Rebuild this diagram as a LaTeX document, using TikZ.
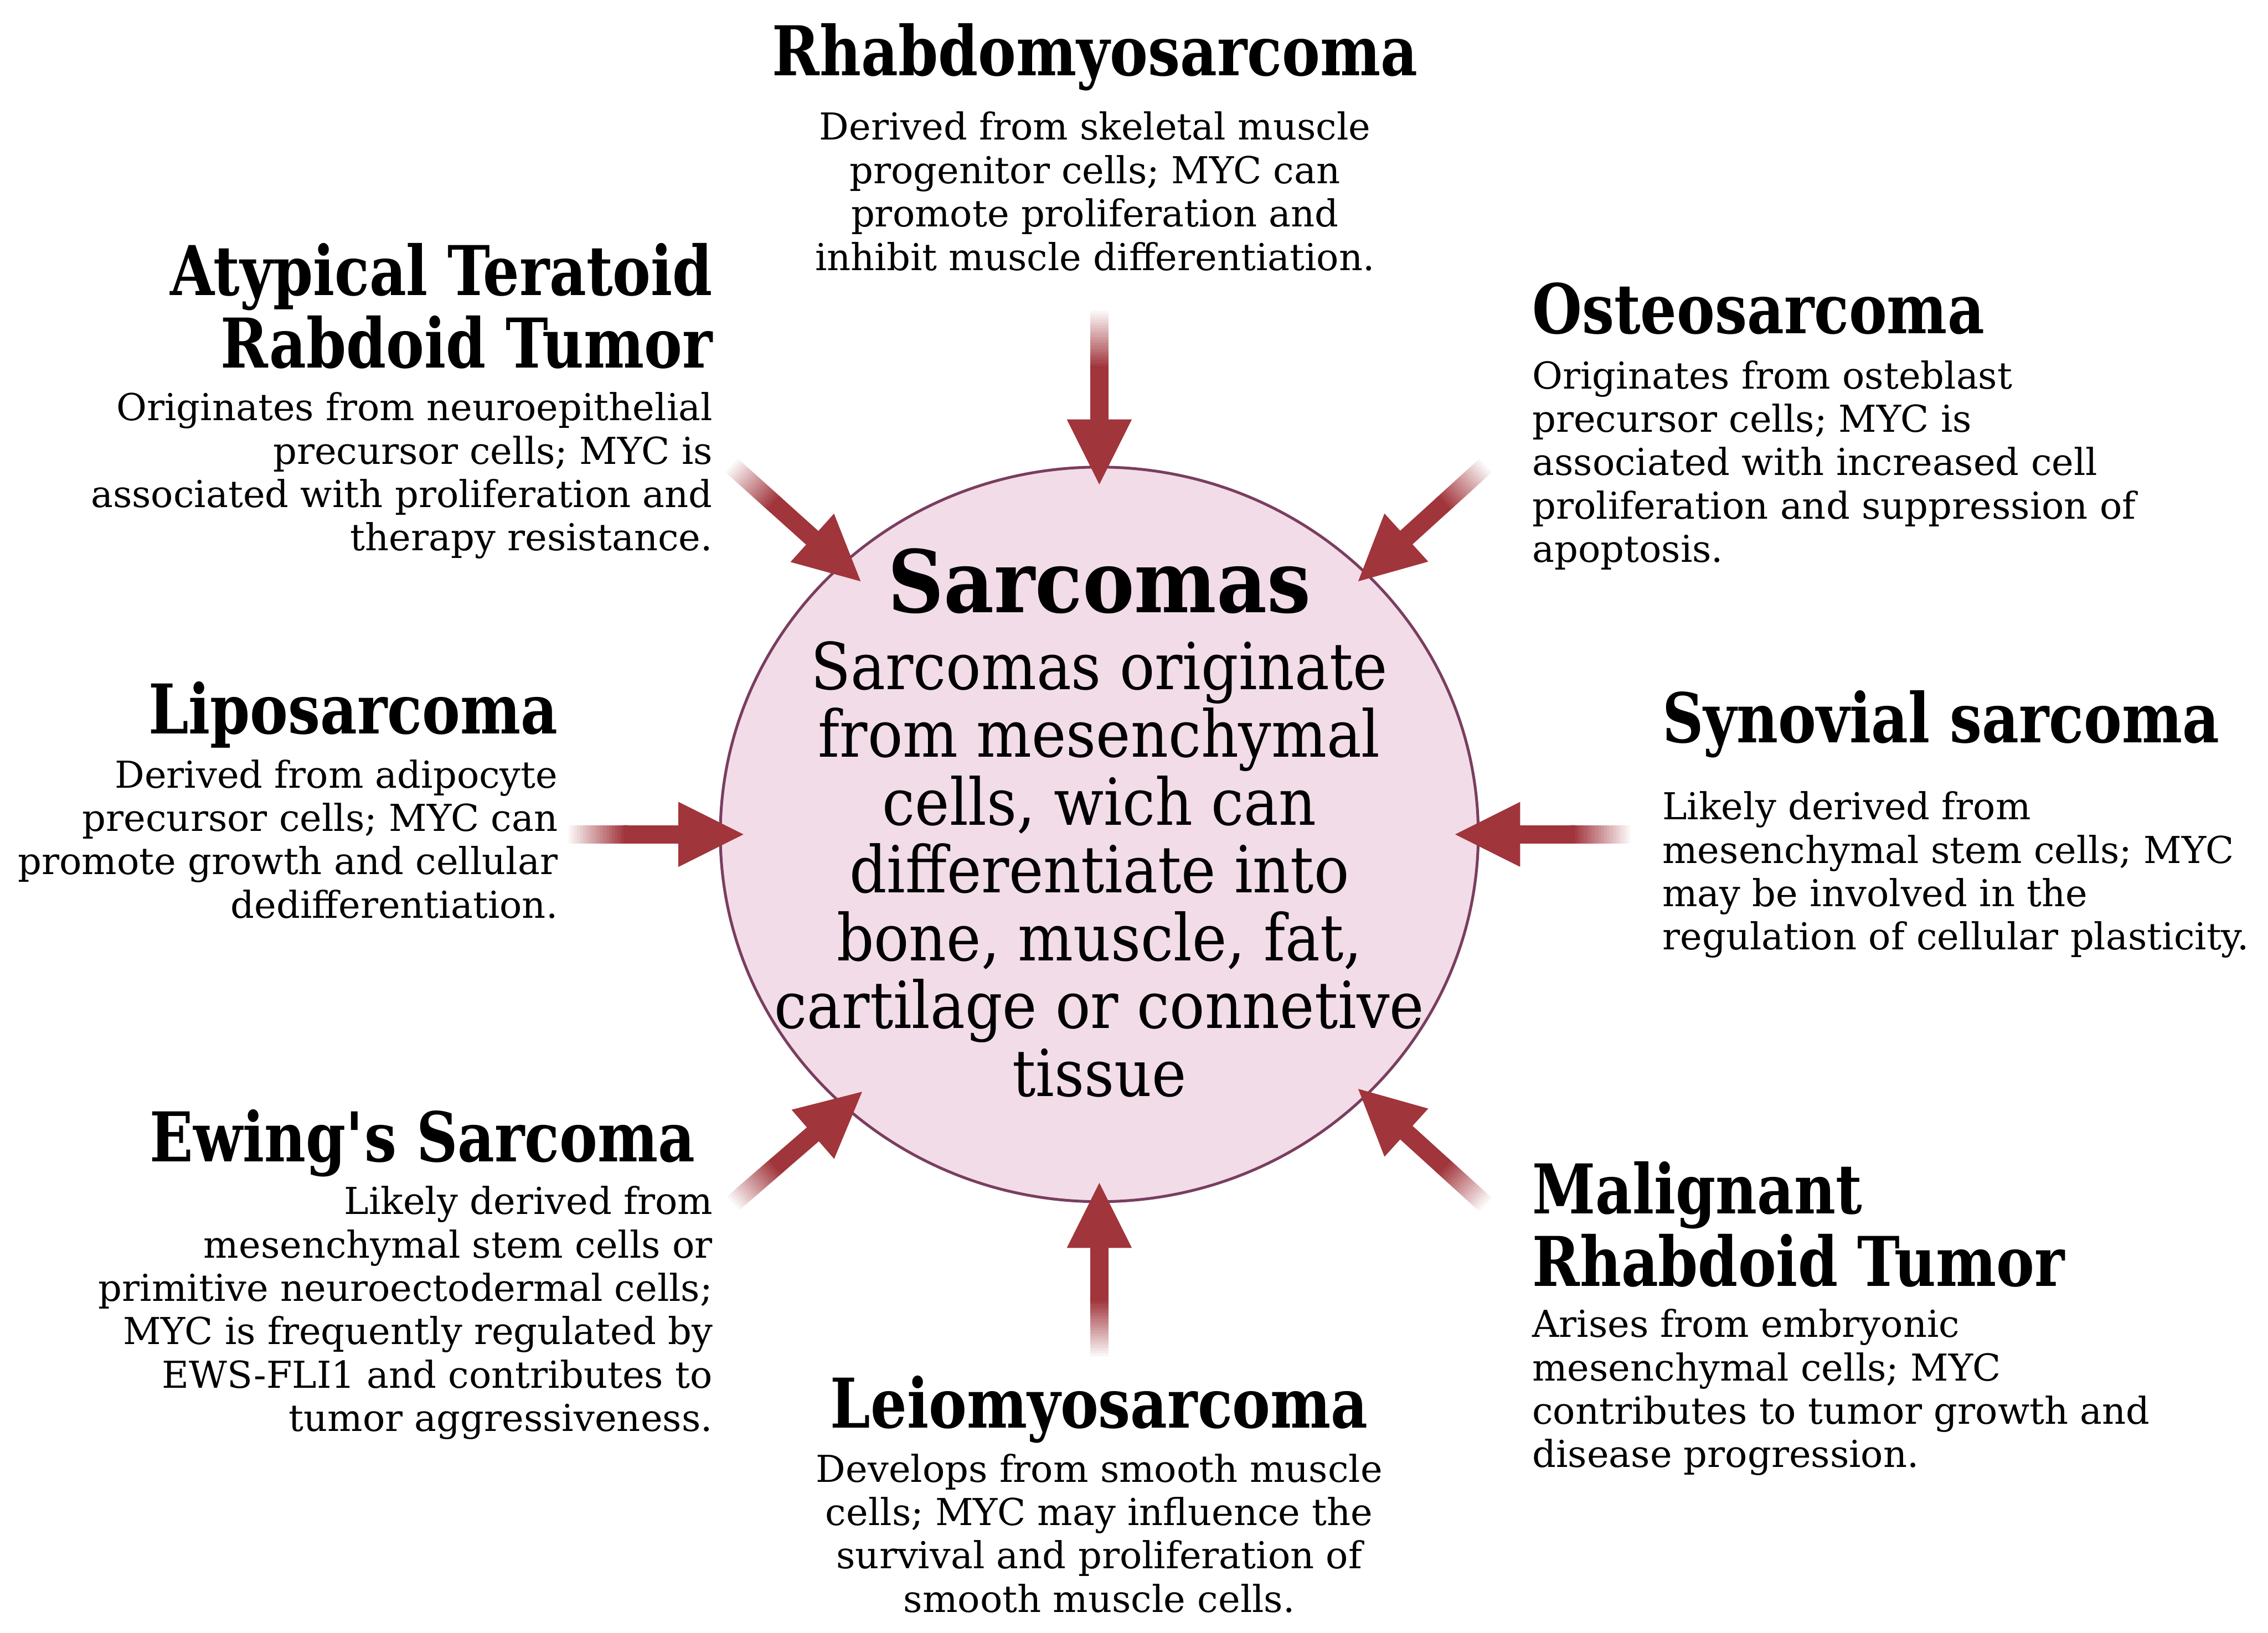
\documentclass[tikz,border=0pt]{standalone}
\usepackage{fontspec}
\setmainfont{DejaVu Serif Condensed}
\newfontfamily\dscfont{DejaVu Serif}
\newfontfamily\ttlfont[FakeStretch=0.925]{DejaVu Serif Condensed}
\usetikzlibrary{calc}
\definecolor{arrowc}{HTML}{A0353B}
\definecolor{cellfill}{HTML}{F2DCE8}
\definecolor{celldraw}{HTML}{7A3E5F}
\newcommand\fadearrow[2]{%
  \coordinate (F) at ($(#1)!0.8cm!(#2)$);
  \coordinate (B) at ($(#2)!0.9cm!(#1)$);
  \coordinate (Bx) at ($(#2)!0.85cm!(#1)$);
  \foreach \ii in {0,...,19} {
    \pgfmathsetmacro\arA{\ii/20}
    \pgfmathsetmacro\arB{(\ii+1.6)/20}
    \pgfmathtruncatemacro\arC{(\ii+1)*5}
    \draw[line width=0.254cm, color=arrowc!\arC!white]
      ($(#1)!\arA!(F)$) -- ($(#1)!\arB!(F)$);
  }
  \draw[line width=0.254cm, arrowc] (F) -- (Bx);
  \fill[arrowc] (#2) -- ($(B)!0.45cm!90:(#2)$) -- ($(B)!0.45cm!-90:(#2)$) -- cycle;
}
\begin{document}
\begin{tikzpicture}[x=0.02cm,y=-0.02cm,
  ttl/.style={font=\ttlfont\fontsize{27}{28.45}\selectfont\bfseries, inner sep=0},
  dsc/.style={font=\dscfont\fontsize{14.6}{17.07}\selectfont, inner sep=0},
  ctitle/.style={font=\fontsize{34}{40}\selectfont\bfseries, inner sep=0},
  cbody/.style={font=\fontsize{25.5}{26.7}\selectfont, inner sep=0, align=center}]
\useasboundingbox[fill=white] (0,0) rectangle (1568,1129);

% central cell
\draw[fill=cellfill, draw=celldraw, line width=1.1pt] (760,577) ellipse [x radius=262, y radius=254];
\node[ctitle, anchor=north] (ct) at (760,379) {Sarcomas};
\node[cbody, anchor=north] (cb) at (760,443) {Sarcomas originate\\from mesenchymal\\cells, wich can\\differentiate into\\bone, muscle, fat,\\cartilage or connetive\\tissue};

% arrows
\coordinate (t1) at (760,215);  \coordinate (p1) at (760,335);
\coordinate (t2) at (760,938);  \coordinate (p2) at (760,818);
\coordinate (t3) at (393,577);  \coordinate (p3) at (514,577);
\coordinate (t4) at (1127,577); \coordinate (p4) at (1006,577);
\coordinate (t5) at (506,322);  \coordinate (p5) at (595,402);
\coordinate (t6) at (1027,322); \coordinate (p6) at (939,402);
\coordinate (t7) at (507,832);  \coordinate (p7) at (596,755);
\coordinate (t8) at (1027,833); \coordinate (p8) at (939,753);
\fadearrow{t1}{p1}
\fadearrow{t2}{p2}
\fadearrow{t3}{p3}
\fadearrow{t4}{p4}
\fadearrow{t5}{p5}
\fadearrow{t6}{p6}
\fadearrow{t7}{p7}
\fadearrow{t8}{p8}

% Rhabdomyosarcoma
\node[ttl, anchor=north] (rhT) at (757,16) {Rhabdomyosarcoma};
\node[dsc, align=center, anchor=north] (rhD) at (757,77) {Derived from skeletal muscle\\progenitor cells; MYC can\\promote proliferation and\\inhibit muscle differentiation.};

% ATRT
\node[ttl, align=right, anchor=north east] (atT) at (493,168) {Atypical Teratoid\\Rabdoid Tumor};
\node[dsc, align=right, anchor=north east] (atD) at (493,271) {Originates from neuroepithelial\\precursor cells; MYC is\\associated with proliferation and\\therapy resistance.};

% Osteosarcoma
\node[ttl, anchor=north west] (osT) at (1059,195) {Osteosarcoma};
\node[dsc, align=left, anchor=north west] (osD) at (1059,249) {Originates from osteblast\\precursor cells; MYC is\\associated with increased cell\\proliferation and suppression of\\apoptosis.};

% Liposarcoma
\node[ttl, anchor=north east] (liT) at (386,471) {Liposarcoma};
\node[dsc, align=right, anchor=north east] (liD) at (386,525) {Derived from adipocyte\\precursor cells; MYC can\\promote growth and cellular\\dedifferentiation.};

% Synovial sarcoma
\node[ttl, anchor=north west] (syT) at (1149,477) {Synovial sarcoma};
\node[dsc, align=left, anchor=north west] (syD) at (1149,547) {Likely derived from\\mesenchymal stem cells; MYC\\may be involved in the\\regulation of cellular plasticity.};

% Ewing's Sarcoma
\node[ttl, anchor=north east] (ewT) at (481,767) {Ewing\textquotesingle s Sarcoma};
\node[dsc, align=right, anchor=north east] (ewD) at (493,820) {Likely derived from\\mesenchymal stem cells or\\primitive neuroectodermal cells;\\MYC is frequently regulated by\\EWS-FLI1 and contributes to\\tumor aggressiveness.};

% Leiomyosarcoma
\node[ttl, anchor=north] (leT) at (760,951) {Leiomyosarcoma};
\node[dsc, align=center, anchor=north] (leD) at (760,1005) {Develops from smooth muscle\\cells; MYC may influence the\\survival and proliferation of\\smooth muscle cells.};

% Malignant Rhabdoid Tumor
\node[ttl, align=left, anchor=north west] (mrT) at (1059,803) {Malignant\\Rhabdoid Tumor};
\node[dsc, align=left, anchor=north west] (mrD) at (1059,905) {Arises from embryonic\\mesenchymal cells; MYC\\contributes to tumor growth and\\disease progression.};
\end{tikzpicture}
\end{document}
